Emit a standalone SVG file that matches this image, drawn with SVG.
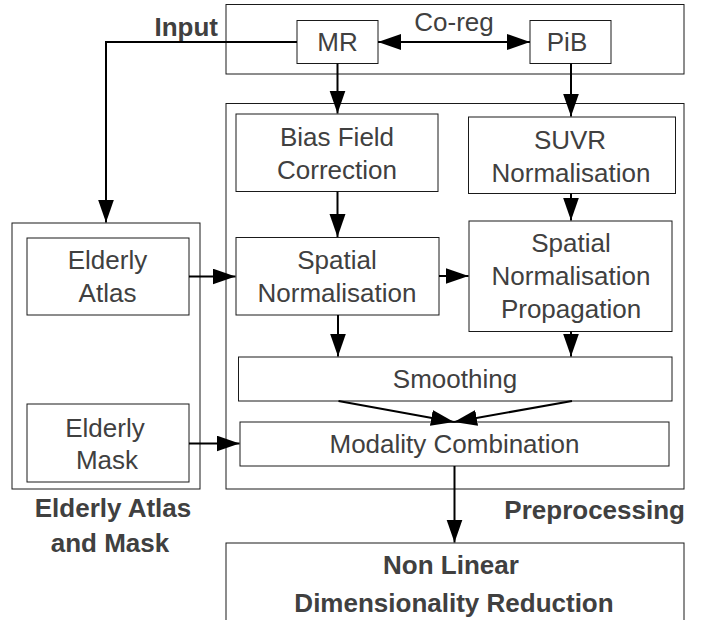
<svg xmlns="http://www.w3.org/2000/svg" width="708" height="620" viewBox="0 0 708 620">
  <style>
    .box { fill: #ffffff; stroke: #1a1a1a; stroke-width: 1; }
    .grp { fill: none; stroke: #1a1a1a; stroke-width: 1; }
    .t { font-family: "Liberation Sans", Arial, sans-serif; font-size: 26px; fill: #404040; text-anchor: middle; }
    .b { font-family: "Liberation Sans", Arial, sans-serif; font-size: 26px; font-weight: bold; fill: #404040; text-anchor: middle; }
    .end { text-anchor: end; }
    .c { fill: none; stroke: #000000; stroke-width: 2; }
  </style>
  <defs>
    <marker id="ah" markerUnits="userSpaceOnUse" markerWidth="24" markerHeight="17" refX="23" refY="8" orient="auto-start-reverse">
      <path d="M0,0 L23,8 L0,16 Z" fill="#000000"/>
    </marker>
  </defs>
  <rect width="708" height="620" fill="#ffffff"/>

  <g id="group-input">
    <rect class="grp" x="226" y="4.5" width="458" height="69.5"/>
    <text class="b end" x="218" y="36">Input</text>
  </g>
  <g id="group-preprocessing">
    <rect class="grp" x="226" y="103.5" width="458" height="385.5"/>
    <text class="b end" x="685" y="519">Preprocessing</text>
  </g>
  <g id="group-elderly">
    <rect class="grp" x="12" y="223" width="188" height="266"/>
    <text class="b" x="113" y="517">Elderly Atlas</text>
    <text class="b" x="110" y="552">and Mask</text>
  </g>

  <g id="node-mr">
    <rect class="box" x="297" y="20.5" width="81" height="43"/>
    <text class="t" x="337.5" y="51">MR</text>
  </g>
  <g id="node-pib">
    <rect class="box" x="530" y="20.5" width="81" height="43"/>
    <text class="t" x="567" y="51">PiB</text>
  </g>
  <g id="node-bias">
    <rect class="box" x="236" y="114" width="202" height="77.5"/>
    <text class="t" x="337" y="146">Bias Field</text>
    <text class="t" x="337" y="179">Correction</text>
  </g>
  <g id="node-suvr">
    <rect class="box" x="468.5" y="117" width="207" height="76.5"/>
    <text class="t" x="570" y="149">SUVR</text>
    <text class="t" x="571" y="182">Normalisation</text>
  </g>
  <g id="node-spatial">
    <rect class="box" x="236" y="237.5" width="203" height="77.5"/>
    <text class="t" x="337" y="268.5">Spatial</text>
    <text class="t" x="337" y="301.5">Normalisation</text>
  </g>
  <g id="node-snp">
    <rect class="box" x="469" y="221" width="203" height="110.5"/>
    <text class="t" x="571" y="252">Spatial</text>
    <text class="t" x="571" y="285">Normalisation</text>
    <text class="t" x="571" y="318">Propagation</text>
  </g>
  <g id="node-atlas">
    <rect class="box" x="27" y="238" width="162" height="77"/>
    <text class="t" x="107.5" y="269">Elderly</text>
    <text class="t" x="107.5" y="302">Atlas</text>
  </g>
  <g id="node-mask">
    <rect class="box" x="27" y="404" width="162" height="78"/>
    <text class="t" x="105" y="437">Elderly</text>
    <text class="t" x="107" y="469">Mask</text>
  </g>
  <g id="node-smoothing">
    <rect class="box" x="238.5" y="357" width="433.5" height="44"/>
    <text class="t" x="455" y="387.5">Smoothing</text>
  </g>
  <g id="node-modality">
    <rect class="box" x="240" y="422" width="429" height="44"/>
    <text class="t" x="454.5" y="453">Modality Combination</text>
  </g>
  <g id="node-nldr">
    <rect class="box" x="226" y="543" width="458" height="100"/>
    <text class="b" x="451" y="573.5">Non Linear</text>
    <text class="b" x="454" y="612">Dimensionality Reduction</text>
  </g>

  <g id="connectors">
    <path class="c" d="M297,42 H106 V222.5" marker-end="url(#ah)"/>
    <path class="c" d="M378,42 H530" marker-start="url(#ah)" marker-end="url(#ah)"/>
    <text class="t" x="454" y="30.5">Co-reg</text>
    <path class="c" d="M337.5,63.5 V113.5" marker-end="url(#ah)"/>
    <path class="c" d="M571,63.5 V116.5" marker-end="url(#ah)"/>
    <path class="c" d="M337.5,191.5 V237" marker-end="url(#ah)"/>
    <path class="c" d="M571,193.5 V220.5" marker-end="url(#ah)"/>
    <path class="c" d="M189,276.5 H235.5" marker-end="url(#ah)"/>
    <path class="c" d="M439,276 H468.5" marker-end="url(#ah)"/>
    <path class="c" d="M338,315 V356.5" marker-end="url(#ah)"/>
    <path class="c" d="M571,331.5 V356.5" marker-end="url(#ah)"/>
    <path class="c" d="M338.5,401 L454,422" marker-end="url(#ah)"/>
    <path class="c" d="M572,401 L454,422" marker-end="url(#ah)"/>
    <path class="c" d="M189,443.5 H239.5" marker-end="url(#ah)"/>
    <path class="c" d="M454.5,466 V542.5" marker-end="url(#ah)"/>
  </g>
</svg>
